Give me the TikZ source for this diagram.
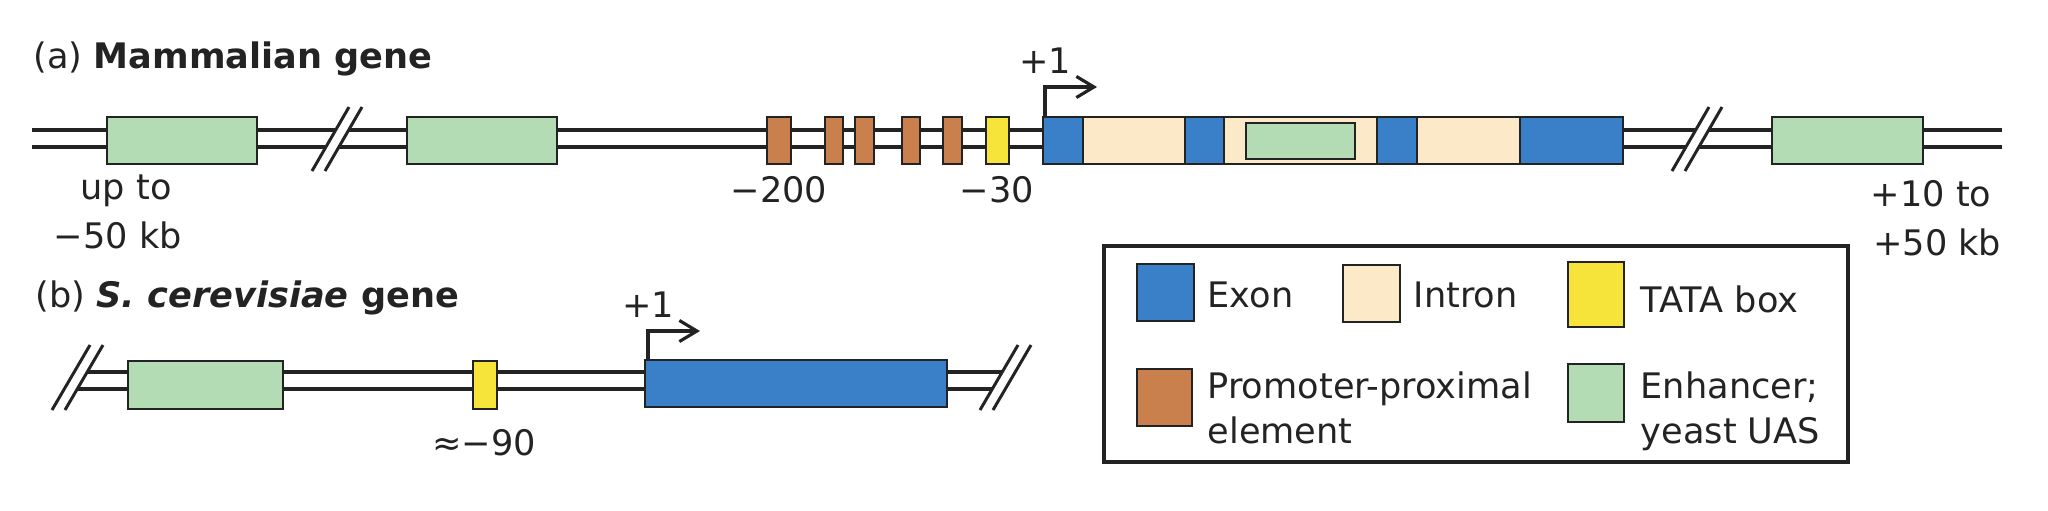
\documentclass[tikz,border=0pt]{standalone}
\usepackage{fontspec}
\setmainfont{DejaVu Sans}
\usetikzlibrary{arrows.meta}
\definecolor{exonc}{RGB}{58,128,200}
\definecolor{intronc}{RGB}{251,233,200}
\definecolor{tatac}{RGB}{247,228,58}
\definecolor{promc}{RGB}{201,128,76}
\definecolor{enhc}{RGB}{180,220,180}
\definecolor{ink}{RGB}{35,35,35}
\begin{document}
\begin{tikzpicture}[x=0.1mm,y=-0.1mm,
  dna/.style={ink,line width=1.4pt},
  bx/.style={draw=ink,line width=0.7pt},
  exon/.style={bx,fill=exonc},
  intron/.style={bx,fill=intronc},
  tata/.style={bx,fill=tatac},
  prom/.style={bx,fill=promc},
  enh/.style={bx,fill=enhc},
  brk/.style={ink,line width=0.85pt},
  tss/.style={ink,line width=0.9pt,-{Straight Barb[length=5pt,width=6pt]}},
  lbl/.style={inner sep=0pt,font=\fontsize{10}{12}\selectfont,text=ink},
]
\useasboundingbox (0,0) rectangle (2048,510);

% ---------------- (a) Mammalian gene ----------------
\node[lbl,anchor=base west] (titleA) at (33,68) {(a) \textbf{Mammalian gene}};
\draw[dna] (32,130) -- (2002,130);
\draw[dna] (32,147) -- (2002,147);
% breaks
\fill[white] (312,171) -- (349,107) -- (362,107) -- (325,171) -- cycle;
\draw[brk] (312,171) -- (349,107);
\draw[brk] (325,171) -- (362,107);
\fill[white] (1672,171) -- (1709,107) -- (1722,107) -- (1685,171) -- cycle;
\draw[brk] (1672,171) -- (1709,107);
\draw[brk] (1685,171) -- (1722,107);
% enhancers
\draw[enh] (107,117) rectangle (257,164);
\draw[enh] (407,117) rectangle (557,164);
\draw[enh] (1772,117) rectangle (1923,164);
% promoter-proximal elements
\draw[prom] (767,117) rectangle (791,164);
\draw[prom] (825,117) rectangle (843,164);
\draw[prom] (855,117) rectangle (874,164);
\draw[prom] (902,117) rectangle (920,164);
\draw[prom] (943,117) rectangle (962,164);
% TATA
\draw[tata] (986,117) rectangle (1009,164);
% gene body
\draw[intron] (1043,117) rectangle (1623,164);
\draw[exon] (1043,117) rectangle (1083,164);
\draw[exon] (1185,117) rectangle (1224,164);
\draw[exon] (1377,117) rectangle (1417,164);
\draw[exon] (1520,117) rectangle (1623,164);
\draw[enh] (1246,123) rectangle (1355,159);
% transcription start
\coordinate (tssA) at (1045,117);
\draw[tss] (tssA) -- (1045,87) -- (1097,87);
\node[lbl,anchor=base] (plusA) at (1045,73) {+1};
% labels
\node[lbl,anchor=base west] (upto) at (80,199) {up to};
\node[lbl,anchor=base west] (m50) at (53,248) {−50 kb};
\node[lbl,anchor=base] (m200) at (779,202) {−200};
\node[lbl,anchor=base] (m30) at (997,202) {−30};
\node[lbl,anchor=base east] (p10) at (1992,206) {+10 to};
\node[lbl,anchor=base east] (p50) at (2002,255) {+50 kb};

% ---------------- (b) S. cerevisiae gene ----------------
\node[lbl,anchor=base west] (titleB) at (35,307) {(b) \textbf{\textit{S. cerevisiae} gene}};
\draw[dna] (87.2,372) -- (1002.2,372);
\draw[dna] (77.3,389) -- (992.3,389);
\draw[brk] (52,410) -- (90,345);
\draw[brk] (65,410) -- (103,345);
\draw[brk] (980,410) -- (1018,345);
\draw[brk] (993,410) -- (1031,345);
\draw[enh] (128,361) rectangle (283,409);
\draw[tata] (473,361) rectangle (497,409);
\draw[exon] (645,360) rectangle (947,407);
\coordinate (tssB) at (648,360);
\draw[tss] (tssB) -- (648,331) -- (700,331);
\node[lbl,anchor=base] (plusB) at (648,317) {+1};
\node[lbl,anchor=base] (m90) at (484,455) {≈−90};

% ---------------- legend ----------------
\draw[ink,line width=0.9pt] (1104,246) rectangle (1848,462);
\draw[exon] (1137,264) rectangle (1194,321);
\node[lbl,anchor=base west] (lExon) at (1207,307) {Exon};
\draw[intron] (1343,265) rectangle (1400,322);
\node[lbl,anchor=base west] (lIntron) at (1413,307) {Intron};
\draw[tata] (1568,262) rectangle (1624,327);
\node[lbl,anchor=base west] (lTata) at (1640,312) {TATA box};
\draw[prom] (1137,369) rectangle (1192,426);
\node[lbl,anchor=base west] (lProm1) at (1207,398) {Promoter-proximal};
\node[lbl,anchor=base west] (lProm2) at (1207,443) {element};
\draw[enh] (1568,364) rectangle (1624,422);
\node[lbl,anchor=base west] (lEnh1) at (1640,398) {Enhancer;};
\node[lbl,anchor=base west] (lEnh2) at (1640,443) {yeast UAS};
\end{tikzpicture}
\end{document}
